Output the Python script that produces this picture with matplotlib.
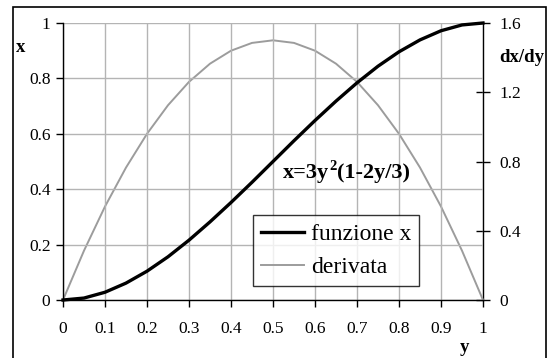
import matplotlib.pyplot as plt
from matplotlib.patches import Rectangle
from matplotlib.transforms import offset_copy

plt.rcParams['font.family'] = ['Liberation Serif', 'DejaVu Serif']

# sampled curve, step 0.05 in y
y_vals = [0.0, 0.05, 0.1, 0.15, 0.2, 0.25, 0.3, 0.35, 0.4, 0.45, 0.5,
          0.55, 0.6, 0.65, 0.7, 0.75, 0.8, 0.85, 0.9, 0.95, 1.0]
x_vals = [0.0, 0.007, 0.028, 0.061, 0.104, 0.156, 0.216, 0.282, 0.352, 0.425, 0.5,
          0.575, 0.648, 0.718, 0.784, 0.844, 0.896, 0.939, 0.972, 0.993, 1.0]
dxdy_vals = [0.0, 0.285, 0.54, 0.765, 0.96, 1.125, 1.26, 1.365, 1.44, 1.485, 1.5,
             1.485, 1.44, 1.365, 1.26, 1.125, 0.96, 0.765, 0.54, 0.285, 0.0]

x_ticks = [0, 0.1, 0.2, 0.3, 0.4, 0.5, 0.6, 0.7, 0.8, 0.9, 1]
x_ticklabels = ['0', '0.1', '0.2', '0.3', '0.4', '0.5', '0.6', '0.7', '0.8', '0.9', '1']
left_ticks = [0, 0.2, 0.4, 0.6, 0.8, 1]
left_ticklabels = ['0', '0.2', '0.4', '0.6', '0.8', '1']
right_ticks = [0, 0.4, 0.8, 1.2, 1.6]
right_ticklabels = ['0', '0.4', '0.8', '1.2', '1.6']

W, H = 554, 358
fig = plt.figure(figsize=(W / 100, H / 100), dpi=100)
ax = fig.add_axes([63 / W, 1 - 300 / H, (483 - 63) / W, (300 - 23) / H])
ax2 = ax.twinx()

grid_col = '#b4b4b4'
ax.set_xlim(0, 1)
ax.set_ylim(0, 1)
ax2.set_ylim(0, 1.6)
ax.set_xticks(x_ticks)
ax.set_xticklabels(x_ticklabels)
ax.set_yticks(left_ticks)
ax.set_yticklabels(left_ticklabels)
ax2.set_yticks(right_ticks)
ax2.set_yticklabels(right_ticklabels)
ax.grid(True, color=grid_col, linewidth=1.0)
ax.set_axisbelow(True)

for a in (ax, ax2):
    a.spines['top'].set_visible(False)
    for s in ('left', 'right', 'bottom'):
        a.spines[s].set_linewidth(1.0)
ax.spines['right'].set_visible(False)
ax2.spines['left'].set_visible(False)
ax2.spines['bottom'].set_visible(False)

ax.tick_params(axis='x', direction='out', length=5, width=1, pad=10, labelsize=12.5)
ax.tick_params(axis='y', direction='out', length=5, width=1, pad=4, labelsize=12.5)
ax2.tick_params(axis='y', direction='inout', length=10, width=1, pad=7, labelsize=12.5)

ln1, = ax.plot(y_vals, x_vals, color='black', linewidth=2.4, label='funzione x',
               zorder=4, clip_on=False)
ln2, = ax2.plot(y_vals, dxdy_vals, color='#9c9c9c', linewidth=1.4, label='derivata',
                zorder=3, clip_on=False)
ax.set_zorder(ax2.get_zorder() + 1)
ax.patch.set_visible(False)

leg = ax.legend(handles=[ln1, ln2], loc='upper left',
                bbox_to_anchor=((253 - 63) / 420, (300 - 215) / 277),
                fontsize=17, frameon=True, fancybox=False, handlelength=1.8,
                handletextpad=0.3, borderpad=0.35, labelspacing=0.5,
                borderaxespad=0)
leg.get_frame().set_edgecolor('black')
leg.get_frame().set_linewidth(1.0)

fig.text(21 / W, 1 - 48 / H, 'x', fontsize=13.5, fontweight='bold',
         ha='center', va='center')
fig.text(522 / W, 1 - 57 / H, 'dx/dy', fontsize=13.5, fontweight='bold',
         ha='center', va='center')
fig.text(464 / W, 1 - 348 / H, 'y', fontsize=13.5, fontweight='bold',
         ha='center', va='center')

# formula label built in pieces so the exponent sits raised
renderer = fig.canvas.get_renderer()
t1 = fig.text(283 / W, 1 - 178 / H, 'x=3y', fontsize=16, fontweight='bold',
              ha='left', va='baseline')
w1 = t1.get_window_extent(renderer).width
t2 = fig.text(283 / W, 1 - 178 / H, '2', fontsize=10.5, fontweight='bold',
              ha='left', va='baseline',
              transform=offset_copy(fig.transFigure, fig, x=w1 + 0.5, y=8, units='dots'))
w2 = t2.get_window_extent(renderer).width
fig.text(283 / W, 1 - 178 / H, '(1-2y/3)', fontsize=16, fontweight='bold',
         ha='left', va='baseline',
         transform=offset_copy(fig.transFigure, fig, x=w1 + w2 + 1, y=0, units='dots'))

# outer frame around the whole chart
fig.patches.append(Rectangle((12.5 / W, -0.05), (546 - 12.5) / W, 1.05 - 7.5 / H,
                             transform=fig.transFigure, fill=False,
                             edgecolor='black', linewidth=1.2))

fig.savefig('out.png', dpi=100)
